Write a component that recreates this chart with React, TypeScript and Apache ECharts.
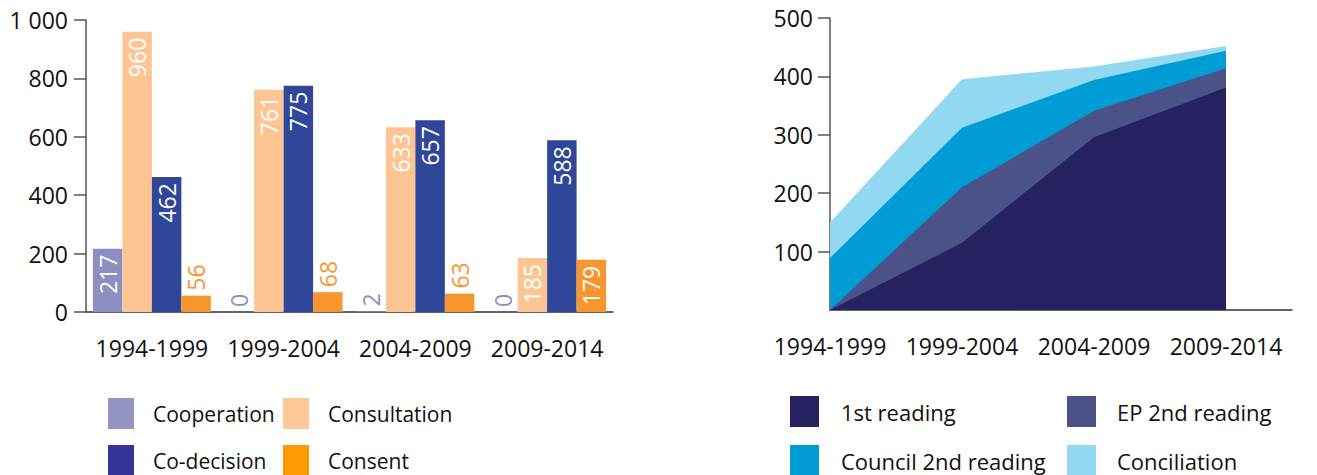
import React, { useEffect, useRef } from "react";
import * as echarts from "echarts";

const categories = ["1994-1999", "1999-2004", "2004-2009", "2009-2014"];

// Left chart: number of procedures by type
const cooperation = [217, 0, 2, 0];
const consultation = [960, 761, 633, 185];
const codecision = [462, 775, 657, 588];
const consent = [56, 68, 63, 179];
const leftTicks = [0, 200, 400, 600, 800, 1000];

// Right chart: co-decision agreements by stage (stacked)
const firstReading = [0, 115, 296, 381];
const ep2ndReading = [0, 95, 45, 33];
const council2ndReading = [89, 102, 53, 30];
const conciliation = [61, 83, 23, 8];
const rightTicks = [100, 200, 300, 400, 500];

const FONT = "Open Sans";

function fmtThousands(v: number): string {
  if (v >= 1000) {
    return `${Math.floor(v / 1000)} ${String(v % 1000).padStart(3, "0")}`;
  }
  return String(v);
}

function barSeries(name: string, values: number[], color: string) {
  return {
    type: "bar",
    name,
    xAxisIndex: 0,
    yAxisIndex: 0,
    barGap: "0%",
    barCategoryGap: "10.5%",
    itemStyle: { color },
    label: { fontSize: 23, fontFamily: FONT },
    data: values.map((v) => ({
      value: v,
      label:
        v >= 150
          ? {
              show: true,
              position: "insideTop",
              rotate: 90,
              align: "right",
              verticalAlign: "middle",
              color: "#ffffff",
              distance: 6,
              fontSize: 23,
              fontFamily: FONT,
            }
          : {
              show: true,
              position: "top",
              rotate: 90,
              align: "left",
              verticalAlign: "middle",
              color,
              distance: 5,
              fontSize: 23,
              fontFamily: FONT,
            },
    })),
  };
}

function legendAt(
  name: string,
  left: number,
  top: number,
  w: number,
  gap: number,
  fontSize: number,
  color?: string
) {
  return {
    show: true,
    left,
    top,
    padding: 0,
    icon: "rect",
    itemWidth: w,
    itemHeight: 31,
    selectedMode: false,
    data: [color ? { name, itemStyle: { color } } : { name }],
    textStyle: {
      fontSize,
      fontFamily: FONT,
      color: "#111",
      padding: [0, 0, 0, gap - 5],
    },
  };
}

export default function App() {
  const ref = useRef<HTMLDivElement>(null);

  useEffect(() => {
    if (!ref.current) return;
    const chart = echarts.init(ref.current, undefined, { renderer: "svg" });

    const stacks = [firstReading, ep2ndReading, council2ndReading, conciliation];
    const cum = stacks.map((_, k) =>
      categories.map((__, i) => {
        let s = 0;
        for (let j = 0; j <= k; j++) s += stacks[j][i];
        return s;
      })
    );
    const rightDefs = [
      { name: "1st reading", color: "#262262" },
      { name: "EP 2nd reading", color: "#4a5288" },
      { name: "Council 2nd reading", color: "#009cd6" },
      { name: "Conciliation", color: "#92d8f0" },
    ];
    const rightSeries = [3, 2, 1, 0].map((k) => ({
      type: "line",
      name: rightDefs[k].name,
      xAxisIndex: 1,
      yAxisIndex: 1,
      symbol: "none",
      color: rightDefs[k].color,
      itemStyle: { color: rightDefs[k].color },
      lineStyle: { width: 0 },
      areaStyle: { color: rightDefs[k].color, opacity: 1 },
      data: cum[k].map((v, i) => [i, v]),
    }));

    const option: any = {
      animation: false,
      textStyle: { fontFamily: FONT },
      grid: [
        { left: 86, top: 20, width: 527, height: 292 },
        { left: 830, top: 18, width: 462, height: 292 },
      ],
      xAxis: [
        {
          type: "category",
          gridIndex: 0,
          data: categories,
          axisLine: { show: true, lineStyle: { color: "#333", width: 1.5 } },
          axisTick: { show: false },
          axisLabel: {
            interval: 0,
            fontSize: 23,
            color: "#111",
            margin: 24,
            fontFamily: FONT,
          },
        },
        {
          type: "value",
          gridIndex: 1,
          min: 0,
          max: 3.5,
          interval: 1,
          splitLine: { show: false },
          axisLine: { show: true, lineStyle: { color: "#333", width: 1.5 } },
          axisTick: { show: false },
          axisLabel: {
            fontSize: 23,
            color: "#111",
            margin: 24,
            fontFamily: FONT,
            customValues: [0, 1, 2, 3],
            formatter: (v: number) => categories[v] ?? "",
          },
        },
      ],
      yAxis: [
        {
          type: "value",
          gridIndex: 0,
          min: leftTicks[0],
          max: leftTicks[leftTicks.length - 1],
          interval: 200,
          splitLine: { show: false },
          axisLine: { show: true, lineStyle: { color: "#555", width: 1.5 } },
          axisTick: { show: true, length: 12, lineStyle: { color: "#555", width: 1.5 } },
          axisLabel: {
            fontSize: 23,
            color: "#111",
            margin: 18,
            fontFamily: FONT,
            formatter: (v: number) => fmtThousands(v),
          },
        },
        {
          type: "value",
          gridIndex: 1,
          min: 0,
          max: rightTicks[rightTicks.length - 1],
          interval: 100,
          splitLine: { show: false },
          axisLine: { show: true, lineStyle: { color: "#555", width: 1.5 } },
          axisTick: {
            show: true,
            length: 12,
            lineStyle: { color: "#555", width: 1.5 },
            customValues: rightTicks,
          },
          axisLabel: {
            fontSize: 23,
            color: "#111",
            margin: 17,
            fontFamily: FONT,
            customValues: rightTicks,
          },
        },
      ],
      legend: [
        legendAt("Cooperation", 108, 398, 26, 19, 21, "#9595c5"),
        legendAt("Consultation", 283, 398, 26, 19, 21, "#fec997"),
        legendAt("Co-decision", 108, 445, 26, 19, 21, "#333399"),
        legendAt("Consent", 283, 445, 26, 19, 21, "#ff9900"),
        legendAt("1st reading", 790, 396, 29, 22, 22),
        legendAt("EP 2nd reading", 1067, 396, 29, 21, 22),
        legendAt("Council 2nd reading", 790, 445, 29, 22, 22),
        legendAt("Conciliation", 1067, 445, 29, 21, 22),
      ],
      series: [
        barSeries("Cooperation", cooperation, "#8d8ec1"),
        barSeries("Consultation", consultation, "#fdc594"),
        barSeries("Co-decision", codecision, "#2f4699"),
        barSeries("Consent", consent, "#f7962e"),
        ...rightSeries,
      ],
    };

    chart.setOption(option);
    return () => chart.dispose();
  }, []);

  return (
    <div
      ref={ref}
      style={{ position: "absolute", left: 0, top: 0, width: 1317, height: 475 }}
    />
  );
}
